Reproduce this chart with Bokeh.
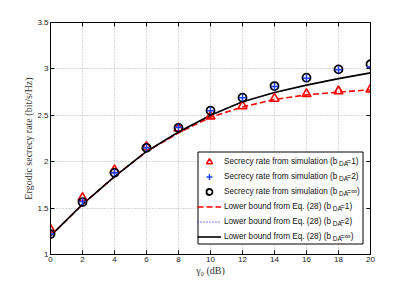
from bokeh.plotting import figure
from bokeh.models import Range1d, LinearAxis, Legend, LegendItem, FixedTicker, ColumnDataSource
from bokeh.core.properties import value
from bokeh.embed import file_html
from bokeh.resources import INLINE

gamma_db = [0, 2, 4, 6, 8, 10, 12, 14, 16, 18, 20]
sim_b1 = [1.27, 1.61, 1.91, 2.16, 2.36, 2.49, 2.60, 2.68, 2.73, 2.76, 2.78]
sim_b2 = [1.22, 1.57, 1.88, 2.15, 2.37, 2.55, 2.69, 2.81, 2.90, 2.99, 3.02]
sim_binf = [1.22, 1.565, 1.88, 2.15, 2.365, 2.55, 2.69, 2.815, 2.905, 2.995, 3.05]
lb_b1 = [1.20, 1.54, 1.84, 2.11, 2.31, 2.48, 2.59, 2.67, 2.72, 2.75, 2.775]
lb_b2 = [1.20, 1.54, 1.84, 2.11, 2.32, 2.50, 2.645, 2.745, 2.825, 2.895, 2.955]
lb_binf = [1.20, 1.54, 1.84, 2.11, 2.32, 2.50, 2.645, 2.745, 2.825, 2.895, 2.957]

x_ticks = [0, 2, 4, 6, 8, 10, 12, 14, 16, 18, 20]
y_ticks = [1, 1.5, 2, 2.5, 3, 3.5]
y_tick_labels = ["1", "1.5", "2", "2.5", "3", "3.5"]

SP = "\u00a0\u00a0\u00a0\u00a0"
legend_labels = [
    "Secrecy rate from simulation (b" + SP + "=1)",
    "Secrecy rate from simulation (b" + SP + "=2)",
    "Secrecy rate from simulation (b" + SP + "=\u221e)",
    "Lower bound from Eq. (28) (b" + SP + "=1)",
    "Lower bound from Eq. (28) (b" + SP + "=2)",
    "Lower bound from Eq. (28) (b" + SP + "=\u221e)",
]
subscripts = ["DA", "DA", "DA", "DA", "DA", "DA"]

FONT = "Liberation Sans"
SERIF = "Liberation Serif"

FW, FH = 320, 232
X0, X1, Y0, Y1 = 0, 20, 1, 3.5


def px_x(px):
    return X0 + px * (X1 - X0) / FW


def px_y(py):
    return Y0 + py * (Y1 - Y0) / FH


p = figure(frame_width=FW, frame_height=FH,
           x_range=Range1d(X0, X1), y_range=Range1d(Y0, Y1),
           output_backend="svg", toolbar_location=None,
           min_border_left=50, min_border_right=29,
           min_border_top=22, min_border_bottom=28)
p.background_fill_color = "white"
p.border_fill_color = "white"
p.outline_line_color = "black"
p.outline_line_width = 1

r_lb1 = p.line(gamma_db, lb_b1, line_color="#ff0000", line_width=1.6, line_dash="6 3")
r_lb2 = p.line(gamma_db, lb_b2, line_color="#0000ff", line_width=1, line_dash="1 2")
r_lbinf = p.line(gamma_db, lb_binf, line_color="black", line_width=1.6)
r_s1 = p.scatter(gamma_db, sim_b1, marker="triangle", size=9, fill_color=None,
                 line_color="#ff0000", line_width=1.6)
r_sinf = p.scatter(gamma_db, sim_binf, marker="circle", size=8, fill_color=None,
                   line_color="black", line_width=1.8)
r_s2 = p.scatter(gamma_db, sim_b2, marker="cross", size=7,
                 line_color="#2040ff", line_width=1.5)

for ax in (p.xaxis[0], p.yaxis[0]):
    ax.major_tick_in = 4
    ax.major_tick_out = 0
    ax.minor_tick_in = 0
    ax.minor_tick_out = 0
    ax.axis_line_color = "black"
    ax.major_label_text_font = FONT
    ax.major_label_text_font_size = "8px"
    ax.major_label_text_color = "#222222"
    ax.axis_label_text_font = SERIF
    ax.axis_label_text_font_size = "10px"
    ax.axis_label_text_font_style = "normal"
    ax.axis_label_text_color = "#333333"
    ax.major_label_standoff = 2
    ax.axis_label_standoff = 0

p.xaxis.ticker = FixedTicker(ticks=x_ticks)
p.yaxis.ticker = FixedTicker(ticks=y_ticks)
p.yaxis.major_label_overrides = {t: s for t, s in zip(y_ticks, y_tick_labels)}
p.xaxis.axis_label = "\u03b3\u2080 (dB)"
p.yaxis.axis_label = "Ergodic secrecy rate (bit/s/Hz)"

top = LinearAxis(ticker=FixedTicker(ticks=x_ticks), major_tick_in=4, major_tick_out=0,
                 minor_tick_in=0, minor_tick_out=0, major_label_text_color=None,
                 major_label_standoff=0)
right = LinearAxis(ticker=FixedTicker(ticks=y_ticks), major_tick_in=4, major_tick_out=0,
                   minor_tick_in=0, minor_tick_out=0, major_label_text_color=None,
                   major_label_standoff=0)
p.add_layout(top, "above")
p.add_layout(right, "right")

p.xgrid.ticker = FixedTicker(ticks=x_ticks)
p.ygrid.ticker = FixedTicker(ticks=y_ticks)
p.grid.grid_line_color = "#b0b0b0"
p.grid.grid_line_dash = "1 2"
p.grid.grid_line_width = 1

# legend box (drawn as a glyph so that the subscripts can sit on top of it)
LEG_X, LEG_Y, LEG_W, ROW, PAD = 147, 10, 165, 15, 1
LEG_H = 2 * PAD + 6 * ROW
GLYPH_W, STANDOFF = 24, 3
TEXT_X = LEG_X + PAD + GLYPH_W + STANDOFF
box_src = ColumnDataSource(dict(l=[px_x(LEG_X + 0.5)], r=[px_x(LEG_X + LEG_W + 0.5)],
                                b=[px_y(LEG_Y + 0.5)], t=[px_y(LEG_Y + LEG_H + 0.5)]))
p.quad(left="l", right="r", bottom="b", top="t", source=box_src,
       fill_color="white", line_color="black", line_width=1)

renderers = [r_s1, r_s2, r_sinf, r_lb1, r_lb2, r_lbinf]
items = [LegendItem(label=l, renderers=[r]) for l, r in zip(legend_labels, renderers)]
legend = Legend(items=items, location=(LEG_X, LEG_Y),
                border_line_color=None, background_fill_alpha=0,
                label_text_font=FONT, label_text_font_size="8.2px",
                label_text_color="#111111",
                glyph_width=GLYPH_W, glyph_height=ROW, label_height=ROW,
                spacing=0, padding=PAD, margin=0, label_standoff=STANDOFF)
p.add_layout(legend, "center")

# subscripts "DA" in the legend labels: pixel positions inside the frame -> data units
sub_px = [TEXT_X + 113.5, TEXT_X + 113.5, TEXT_X + 113.5,
          TEXT_X + 107.2, TEXT_X + 107.2, TEXT_X + 107.2]
sub_py = [LEG_Y + PAD + ROW * (5 - i) + ROW / 2 - 2.5 for i in range(6)]
sub_src = ColumnDataSource(dict(x=[px_x(v) for v in sub_px],
                                y=[px_y(v) for v in sub_py], text=subscripts))
p.text(x="x", y="y", text="text", source=sub_src,
       text_font=value(FONT), text_font_size=value("6.5px"),
       text_color="#111111", text_baseline="middle", text_align="left")

open("out.html", "w").write(file_html(p, INLINE))
